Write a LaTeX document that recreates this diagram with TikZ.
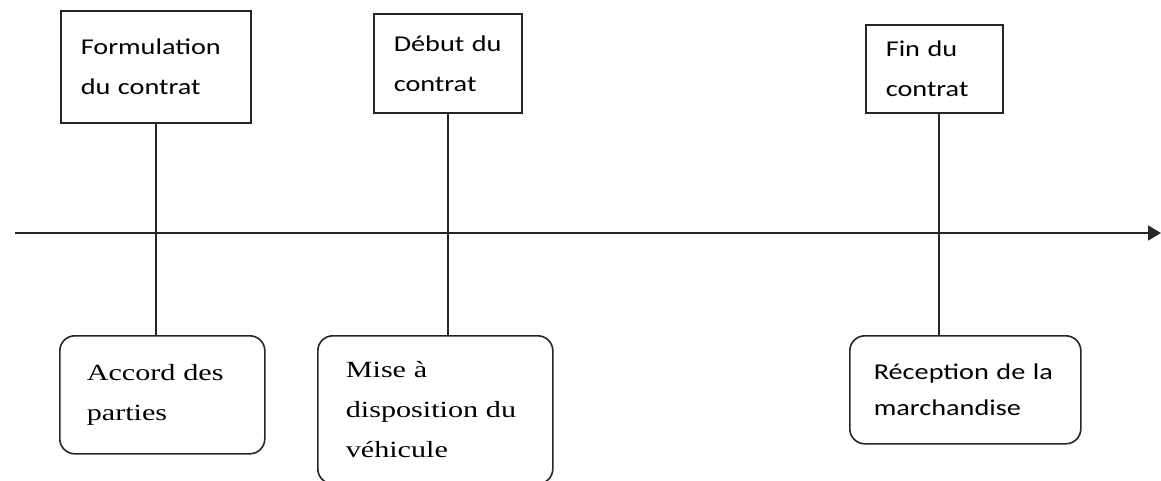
\documentclass[tikz,border=0pt]{standalone}
\usepackage{fontspec}
\setmainfont[FakeStretch=1.3]{Liberation Serif}
\newfontfamily\calibri[FakeStretch=1.25]{Carlito}
\usetikzlibrary{arrows.meta,positioning,calc}

\begin{document}
\begin{tikzpicture}
[
    x = 1pt, y = -1pt,
]

\tikzstyle{event}=[rectangle, draw=black!85, line width=1.6pt, anchor=north west, inner xsep=20pt, inner ysep=0pt, align=left, font=\calibri\fontsize{22.6}{40}\selectfont]
\tikzstyle{fact}=[event, rounded corners=15pt]
\tikzstyle{factserif}=[fact, font=\rmfamily\fontsize{23.2}{40}\selectfont]
\tikzstyle{link}=[draw=black!85, line width=1.6pt]

\useasboundingbox (0,0) rectangle (1161,480);

% time axis
\coordinate (t0) at (15,233);
\coordinate (t1) at (1161,233);
\draw [link, -{Triangle[length=13pt,width=15pt]}] (t0) -- (t1);

% events above the axis
\node (f1) [event, minimum width=190pt, minimum height=112pt, text width=150pt] at (60,10) {Formulation\\du~contrat};
\node (f2) [event, minimum width=148pt, minimum height=99pt, text width=108pt] at (373,13) {Début~du\\contrat};
\node (f3) [event, minimum width=137pt, minimum height=88pt, text width=97pt] at (865,24) {Fin~du\\contrat};

% facts below the axis
\node (a1) [factserif, minimum width=205pt, minimum height=118pt, inner xsep=27pt, text width=151pt] at (59,335) {Accord~des\\parties};
\node (a2) [factserif, minimum width=235pt, minimum height=148pt, inner xsep=28pt, text width=179pt] at (317,335) {Mise~à\\disposition~du\\véhicule};
\node (a3) [fact, minimum width=231pt, minimum height=108pt, inner xsep=24pt, text width=183pt, font=\calibri\fontsize{22.6}{36}\selectfont] at (849,335) {Réception~de~la\\marchandise};

\coordinate (f3foot) at ($(f3.south)+(4.5,0)$);

\draw [link] (f1.south) -- (f1.south |- a1.north);
\draw [link] (f2.south) -- (f2.south |- a2.north);
\draw [link] (f3foot) -- (f3foot |- a3.north);
%\draw [link] (a2.north) -- (f2.south);
\end{tikzpicture}
\end{document}
